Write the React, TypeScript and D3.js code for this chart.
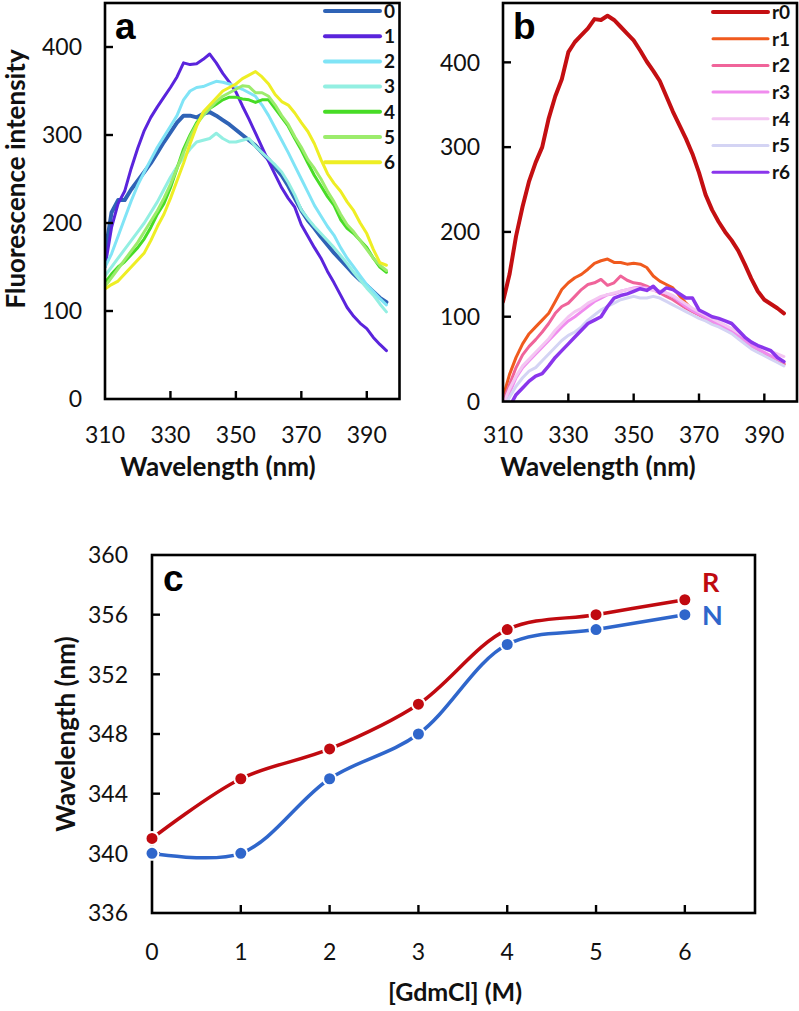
import React from "react";
import * as d3 from "d3";

// ---------- DATA ----------
const WAVELENGTHS = [310, 312, 314, 316, 318, 320, 322, 324, 326, 328, 330, 332, 334, 336, 338, 340, 342, 344, 346, 348, 350, 352, 354, 356, 358, 360, 362, 364, 366, 368, 370, 372, 374, 376, 378, 380, 382, 384, 386, 388, 390, 392, 394, 396];

const SERIES_A_NAMES = ["0", "1", "2", "3", "4", "5", "6"];
const A0 = [165, 212, 226, 226, 238, 248, 258, 268, 280, 292, 303, 314, 322, 322, 320, 324, 326, 322, 317, 312, 306, 300, 294, 288, 280, 272, 263, 254, 242, 228, 214, 203, 194, 184, 175, 166, 158, 150, 142, 135, 129, 122, 115, 110];
const A1 = [150, 195, 222, 236, 262, 285, 305, 320, 332, 343, 354, 366, 382, 380, 381, 386, 392, 382, 370, 360, 349, 333, 318, 302, 286, 270, 255, 240, 228, 218, 198, 185, 172, 160, 145, 132, 118, 104, 94, 86, 80, 70, 62, 55];
const A2 = [150, 165, 185, 205, 225, 243, 258, 272, 286, 298, 310, 322, 340, 350, 354, 355, 358, 361, 360, 358, 355, 352, 348, 344, 334, 322, 308, 294, 280, 265, 250, 235, 220, 208, 196, 186, 172, 160, 150, 140, 130, 122, 114, 107];
const A3 = [140, 150, 160, 170, 180, 190, 200, 212, 224, 238, 252, 264, 274, 284, 292, 294, 296, 302, 296, 292, 292, 294, 296, 287, 280, 273, 266, 258, 246, 232, 215, 205, 196, 188, 180, 172, 163, 154, 144, 135, 126, 118, 108, 99];
const A4 = [132, 142, 150, 156, 164, 172, 182, 195, 210, 222, 240, 262, 284, 300, 314, 323, 330, 335, 340, 343, 343, 341, 340, 337, 340, 340, 330, 320, 310, 296, 283, 268, 254, 242, 230, 220, 204, 194, 188, 180, 172, 160, 150, 144];
const A5 = [128, 138, 148, 158, 168, 178, 190, 202, 214, 228, 244, 262, 280, 298, 312, 322, 330, 338, 344, 348, 352, 356, 355, 348, 348, 344, 334, 322, 312, 298, 286, 272, 262, 250, 236, 224, 210, 198, 190, 180, 170, 160, 152, 146];
const A6 = [125, 130, 134, 142, 150, 158, 166, 180, 196, 210, 228, 248, 268, 290, 310, 326, 334, 342, 350, 354, 358, 364, 368, 372, 366, 358, 346, 338, 334, 325, 314, 304, 290, 272, 256, 245, 236, 224, 214, 200, 188, 170, 155, 152];
const SERIES_A = [A0, A1, A2, A3, A4, A5, A6];
const COLORS_A = ["#2f63b6", "#5a24dc", "#80e4f6", "#93efe2", "#47dc26", "#9cec6c", "#eeee24"];

const SERIES_B_NAMES = ["r0", "r1", "r2", "r3", "r4", "r5", "r6"];
const R0 = [118, 150, 195, 230, 260, 282, 300, 334, 360, 380, 412, 424, 432, 440, 451, 450, 455, 450, 442, 434, 426, 414, 401, 390, 378, 360, 342, 326, 310, 292, 270, 244, 226, 212, 200, 190, 178, 162, 145, 130, 120, 115, 110, 104];
const R1 = [5, 32, 52, 68, 80, 88, 96, 104, 118, 132, 140, 146, 150, 156, 163, 166, 168, 164, 164, 162, 163, 162, 158, 148, 142, 138, 134, 125, 116, 108, 104, 99, 95, 91, 87, 83, 77, 71, 65, 61, 57, 52, 48, 44];
const R2 = [0, 20, 40, 55, 65, 73, 82, 92, 104, 112, 116, 124, 132, 138, 140, 144, 137, 140, 148, 143, 140, 139, 136, 132, 128, 124, 120, 115, 110, 106, 102, 98, 94, 90, 86, 82, 76, 70, 64, 60, 56, 52, 48, 44];
const R3 = [-6, 10, 28, 40, 48, 56, 64, 72, 80, 88, 95, 100, 106, 112, 118, 122, 126, 127, 130, 132, 134, 135, 134, 132, 130, 128, 124, 118, 112, 107, 103, 99, 95, 91, 87, 83, 78, 72, 66, 62, 58, 54, 50, 47];
const R4 = [-4, 15, 30, 42, 50, 58, 66, 74, 84, 92, 100, 106, 110, 116, 120, 124, 126, 128, 130, 132, 133, 134, 133, 131, 130, 128, 125, 120, 115, 110, 106, 102, 98, 94, 90, 86, 81, 76, 70, 66, 62, 59, 56, 53];
const R5 = [-10, 5, 18, 28, 36, 40, 48, 56, 64, 72, 78, 82, 88, 96, 102, 108, 112, 116, 120, 122, 124, 122, 122, 124, 122, 118, 114, 110, 106, 102, 98, 95, 91, 88, 84, 80, 74, 68, 62, 58, 54, 50, 46, 42];
const R6 = [-20, -6, 8, 16, 24, 30, 33, 42, 52, 60, 68, 76, 84, 92, 96, 100, 112, 122, 125, 127, 130, 133, 131, 136, 128, 134, 132, 127, 122, 122, 108, 104, 100, 98, 95, 92, 84, 76, 70, 66, 63, 60, 52, 47];
const SERIES_B = [R0, R1, R2, R3, R4, R5, R6];
const COLORS_B = ["#c40f12", "#f05a1e", "#f0649a", "#f08cee", "#f4c6f2", "#d4d4f4", "#8a36ec"];

const X_TICKS_AB = [310, 330, 350, 370, 390];
const Y_TICKS_A = [0, 100, 200, 300, 400];
const Y_TICKS_B = [0, 100, 200, 300, 400];

const GDMCL = [0, 1, 2, 3, 4, 5, 6];
const LAMBDA_R = [341, 345, 347, 350, 355, 356, 357];
const LAMBDA_N = [340, 340, 345, 348, 354, 355, 356];
const Y_TICKS_C = [336, 340, 344, 348, 352, 356, 360];
const COLOR_R = "#c00a10";
const COLOR_N = "#2f66cb";

const FONT = "Lato, 'Open Sans', sans-serif";
const LETTER_FONT = "'Liberation Sans', Arial, sans-serif";
const TICK_SIZE = 23;

// ---------- COMPONENTS ----------
type SpecProps = {
  left: number; right: number; top: number; bottom: number;
  yMax: number; series: number[][]; colors: string[]; names: string[];
  widths: number[]; legendX: number; legendY: number; legendStep: number;
  legendWidths: number[]; letter: string; yTicks: number[]; yLabelRight: number;
  clipId: string; xTitleCenter: number;
};

function Spectrum(p: SpecProps) {
  const x = d3.scaleLinear().domain([310, 400]).range([p.left, p.right]);
  const y = d3.scaleLinear().domain([0, p.yMax]).range([p.bottom, p.top]);
  const line = d3.line<number>()
    .x((_, i) => x(WAVELENGTHS[i]))
    .y((d) => y(d))
    .curve(d3.curveLinear);
  return (
    <g>
      <defs>
        <clipPath id={p.clipId}>
          <rect x={p.left} y={p.top} width={p.right - p.left} height={p.bottom - p.top} />
        </clipPath>
      </defs>
      <g clipPath={`url(#${p.clipId})`}>
        {p.series.map((s, i) => (
          <path key={i} d={line(s) || ""} fill="none" stroke={p.colors[i]} strokeWidth={p.widths[i]} strokeLinejoin="round" strokeLinecap="round" />
        ))}
      </g>
      <rect x={p.left} y={p.top} width={p.right - p.left} height={p.bottom - p.top} fill="none" stroke="#000" strokeWidth={2.6} />
      {p.yTicks.filter((t) => t > 0).map((t) => (
        <line key={"yt" + t} x1={p.left} x2={p.left + 8} y1={y(t)} y2={y(t)} stroke="#000" strokeWidth={2.4} />
      ))}
      {X_TICKS_AB.filter((t) => t > 310).map((t) => (
        <line key={"xt" + t} x1={x(t)} x2={x(t)} y1={p.bottom} y2={p.bottom - 8} stroke="#000" strokeWidth={2.4} />
      ))}
      {p.yTicks.map((t) => (
        <text key={"yl" + t} x={p.yLabelRight} y={y(t)} dy="0.36em" textAnchor="end" fontFamily={FONT} fontSize={TICK_SIZE} fill="#111">{t}</text>
      ))}
      {X_TICKS_AB.map((t) => (
        <text key={"xl" + t} x={x(t)} y={443} textAnchor="middle" fontFamily={FONT} fontSize={TICK_SIZE} fill="#111">{t}</text>
      ))}
      <text x={p.xTitleCenter} y={476} textAnchor="middle" fontFamily={FONT} fontWeight={700} fontSize={26} fill="#111">Wavelength (nm)</text>
      <text x={p.left + 10} y={39} fontFamily={LETTER_FONT} fontWeight={700} fontSize={37} fill="#000">{p.letter}</text>
      {p.names.map((n, i) => {
        const ly = p.legendY + i * p.legendStep;
        return (
          <g key={"lg" + n}>
            <line x1={p.legendX} x2={p.legendX + 55} y1={ly} y2={ly} stroke={p.colors[i]} strokeWidth={p.legendWidths[i]} strokeLinecap="round" />
            <text x={p.legendX + 59} y={ly} dy="0.36em" fontFamily={FONT} fontWeight={700} fontSize={19} fill="#111">{n}</text>
          </g>
        );
      })}
    </g>
  );
}

function PanelC() {
  const left = 152, right = 755, top = 555, bottom = 913;
  const x = d3.scaleLinear().domain([0, 6.79]).range([left, right]);
  const y = d3.scaleLinear().domain([336, 360]).range([bottom, top]);
  const line = d3.line<number>()
    .x((_, i) => x(GDMCL[i]))
    .y((d) => y(d))
    .curve(d3.curveCatmullRom.alpha(0.5));
  const series = [
    { v: LAMBDA_R, c: COLOR_R },
    { v: LAMBDA_N, c: COLOR_N },
  ];
  return (
    <g>
      <rect x={left} y={top} width={right - left} height={bottom - top} fill="none" stroke="#000" strokeWidth={2.6} />
      {Y_TICKS_C.filter((t) => t > 336 && t < 360).map((t) => (
        <line key={"cyt" + t} x1={left} x2={left + 8} y1={y(t)} y2={y(t)} stroke="#000" strokeWidth={2.4} />
      ))}
      {GDMCL.filter((t) => t > 0).map((t) => (
        <line key={"cxt" + t} x1={x(t)} x2={x(t)} y1={bottom} y2={bottom - 8} stroke="#000" strokeWidth={2.4} />
      ))}
      {Y_TICKS_C.map((t) => (
        <text key={"cyl" + t} x={128} y={y(t)} dy="0.36em" textAnchor="end" fontFamily={FONT} fontSize={TICK_SIZE} fill="#111">{t}</text>
      ))}
      {GDMCL.map((t) => (
        <text key={"cxl" + t} x={x(t)} y={960} textAnchor="middle" fontFamily={FONT} fontSize={TICK_SIZE} fill="#111">{t}</text>
      ))}
      <text x={455} y={1001} textAnchor="middle" fontFamily={FONT} fontWeight={700} fontSize={25} fill="#111">[GdmCl] (M)</text>
      <text transform="translate(66,734) rotate(-90)" textAnchor="middle" dy="0.36em" fontFamily={FONT} fontWeight={700} fontSize={26} fill="#111">Wavelength (nm)</text>
      <text x={163} y={591} fontFamily={LETTER_FONT} fontWeight={700} fontSize={37} fill="#000">c</text>
      {series.map((s, k) => (
        <g key={"s" + k}>
          <path d={line(s.v) || ""} fill="none" stroke={s.c} strokeWidth={3.5} />
          {s.v.map((v, i) => (
            <circle key={i} cx={x(GDMCL[i])} cy={y(v)} r={6.5} fill={s.c} stroke="#fff" strokeWidth={2} />
          ))}
        </g>
      ))}
      <text x={702} y={592} fontFamily={FONT} fontWeight={700} fontSize={27} fill={COLOR_R}>R</text>
      <text x={702} y={625} fontFamily={FONT} fontWeight={700} fontSize={27} fill={COLOR_N}>N</text>
    </g>
  );
}

export default function App() {
  return (
    <svg width={799} height={1011} viewBox="0 0 799 1011" style={{ position: "absolute", left: 0, top: 0, background: "#fff" }}>
      <rect x={0} y={0} width={799} height={1011} fill="#fff" />
      <Spectrum
        left={105} right={399.5} top={3} bottom={399} yMax={450}
        series={SERIES_A} colors={COLORS_A} names={SERIES_A_NAMES}
        widths={[4, 3, 3, 3, 3, 3, 3]}
        legendX={325} legendY={11} legendStep={25.2}
        legendWidths={[4, 4, 4, 4, 4, 4, 4]}
        letter="a" yTicks={Y_TICKS_A} yLabelRight={82} clipId="clipA" xTitleCenter={218}
      />
      <text transform="translate(16,179) rotate(-90)" textAnchor="middle" dy="0.36em" fontFamily={FONT} fontWeight={700} fontSize={26} fill="#111">Fluorescence intensity</text>
      <Spectrum
        left={503} right={797} top={3} bottom={401.5} yMax={470}
        series={SERIES_B} colors={COLORS_B} names={SERIES_B_NAMES}
        widths={[4, 3, 3, 3, 3, 3, 3.5]}
        legendX={713} legendY={12} legendStep={26.7}
        legendWidths={[4, 3, 3, 3, 3, 3, 3]}
        letter="b" yTicks={Y_TICKS_B} yLabelRight={480} clipId="clipB" xTitleCenter={598}
      />
      <PanelC />
    </svg>
  );
}
